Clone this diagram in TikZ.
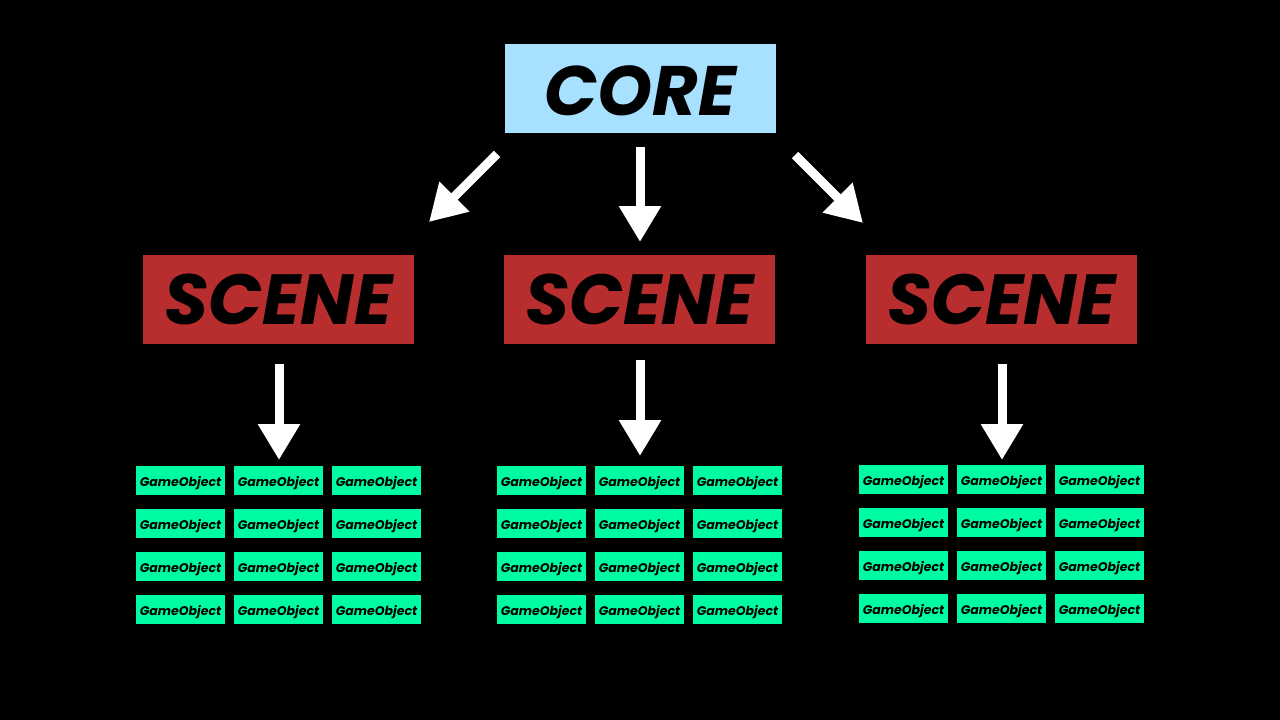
\documentclass[tikz,border=0pt]{standalone}
\usepackage{fontspec}
\newfontfamily\pop{Poppins}
\usetikzlibrary{arrows.meta}
\definecolor{coreblue}{RGB}{168,224,255}
\definecolor{scenered}{RGB}{184,45,45}
\definecolor{gogreen}{RGB}{0,252,162}
\tikzset{
  corebox/.style={fill=coreblue, minimum width=271pt, minimum height=89pt, inner sep=0pt,
    text height=53pt, text depth=0pt,
    font=\pop\bfseries\itshape\fontsize{70}{70}\selectfont, text=black},
  scenebox/.style={fill=scenered, minimum width=271pt, minimum height=89pt, inner sep=0pt,
    text height=50pt, text depth=0pt,
    font=\pop\bfseries\itshape\fontsize{71}{71}\selectfont, text=black},
  gobox/.style={fill=gogreen, minimum width=89pt, minimum height=29pt, inner sep=0pt,
    text height=12pt, text depth=0pt,
    font=\pop\bfseries\itshape\fontsize{12.5}{12.5}\selectfont, text=black},
  bigarrow/.style={draw=white, line width=9pt,
    -{Triangle[width=40pt,length=36pt,fill=white]}}
}
\begin{document}
\begin{tikzpicture}[x=1pt,y=-1pt]
\useasboundingbox (0,0) rectangle (1280,720);
\fill[black] (0,0) rectangle (1280,720);
\node[corebox] (core) at (640.5,88.5) {CORE};
\node[scenebox] (s1) at (278.5,299.5) {SCENE};
\node[scenebox] (s2) at (639.5,299.5) {SCENE};
\node[scenebox] (s3) at (1001.5,299.5) {SCENE};
% game object grids
\foreach \gx/\gy/\g in {180.5/480.5/a, 541.5/480.5/b, 903.5/479.5/c}{
  \foreach \c in {0,1,2}{
    \foreach \r in {0,1,2,3}{
      \node[gobox] (go-\g-\r-\c) at ({\gx+98*\c},{\gy+43*\r}) {GameObject};
    }
  }
}
% arrow endpoints
\coordinate (a1s) at (497,154);
\coordinate (a1e) at (429,222);
\coordinate (a2s) at (640,147);
\coordinate (a2e) at (640,242);
\coordinate (a3s) at (795,155);
\coordinate (a3e) at (863,223);
\coordinate (b1s) at (279,364);
\coordinate (b1e) at (279,460);
\coordinate (b2s) at (640,360);
\coordinate (b2e) at (640,456);
\coordinate (b3s) at (1002,364);
\coordinate (b3e) at (1002,460);
\draw[bigarrow] (a1s) -- (a1e);
\draw[bigarrow] (a2s) -- (a2e);
\draw[bigarrow] (a3s) -- (a3e);
\draw[bigarrow] (b1s) -- (b1e);
\draw[bigarrow] (b2s) -- (b2e);
\draw[bigarrow] (b3s) -- (b3e);
\end{tikzpicture}
\end{document}
